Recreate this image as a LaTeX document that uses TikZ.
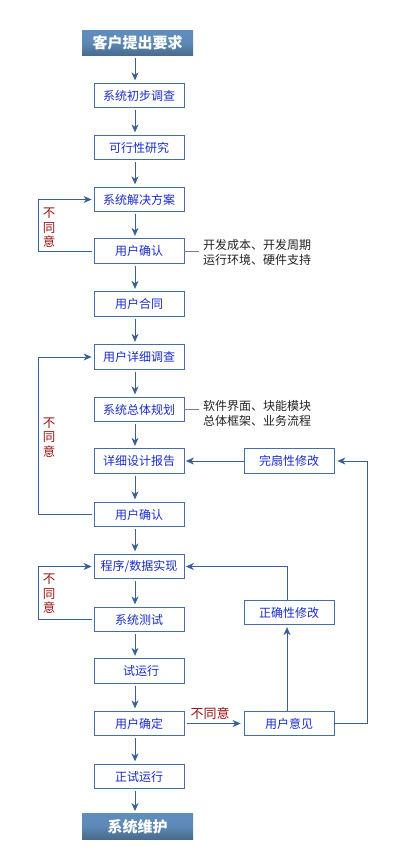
\documentclass[tikz,border=0pt]{standalone}
\usepackage{fontspec}
\setmainfont{Noto Sans CJK SC}
\usetikzlibrary{arrows.meta,calc}
\definecolor{boxc}{RGB}{70,110,165}
\definecolor{arrc}{RGB}{58,95,150}
\definecolor{txtc}{RGB}{25,45,200}
\definecolor{redc}{RGB}{150,20,20}
\definecolor{notec}{RGB}{35,35,35}
\definecolor{topc}{RGB}{96,142,188}
\definecolor{botc}{RGB}{72,106,140}
\begin{document}
\begin{tikzpicture}[x=1pt,y=-1pt,
  stepbox/.style={draw=boxc,line width=0.8pt,fill=white,minimum width=90pt,minimum height=24.5pt,inner sep=0pt,text=txtc,font=\fontsize{12}{12}\selectfont},
  endbox/.style={draw=none,minimum width=111pt,minimum height=25.5pt,inner sep=0pt,text=white,font=\fontsize{15}{15}\selectfont\bfseries,
    top color=topc,bottom color=botc,middle color=topc!85!botc},
  flow/.style={draw=arrc,line width=0.8pt,-{Stealth[length=8pt,width=7pt,inset=2.5pt]}},
  plain/.style={draw=arrc,line width=0.8pt},
  notetext/.style={text=notec,align=left,anchor=west,inner sep=0pt,font=\fontsize{12}{15}\selectfont},
  nolabel/.style={text=redc,align=center,inner sep=0pt,font=\fontsize{12.5}{14.5}\selectfont}]
\useasboundingbox (0,0) rectangle (400,860);
\fill[white] (0,0) rectangle (400,860);
\coordinate (col) at (135,0);
\coordinate (rcol) at (287,0);
\coordinate (lx) at (38,0);
\coordinate (rx) at (367,0);

\node[endbox] (t) at (137.5,43) {客户提出要求};
\node[stepbox] (b1) at (139,95.5) {系统初步调查};
\node[stepbox] (b2) at (139,147.5) {可行性研究};
\node[stepbox] (b3) at (139,199.5) {系统解决方案};
\node[stepbox] (b4) at (139,251) {用户确认};
\node[stepbox] (b5) at (139,304) {用户合同};
\node[stepbox] (b6) at (139,357) {用户详细调查};
\node[stepbox] (b7) at (139,409.5) {系统总体规划};
\node[stepbox] (b8) at (139,461) {详细设计报告};
\node[stepbox] (b9) at (139,514.5) {用户确认};
\node[stepbox] (b10) at (139,566.5) {程序/数据实现};
\node[stepbox] (b11) at (139,619.5) {系统测试};
\node[stepbox] (b12) at (139,671) {\hspace{4pt}试运行};
\node[stepbox] (b13) at (139,723.5) {用户确定};
\node[stepbox] (b14) at (139,776.5) {正试运行};
\node[endbox] (e) at (137.5,826.5) {系统维护};

\node[stepbox] (r1) at (289,461) {完扇性修改};
\node[stepbox] (r2) at (289,612.5) {正确性修改};
\node[stepbox] (r3) at (289,723.5) {用户意见};

% main column arrows
\foreach \a/\b in {t/b1,b1/b2,b2/b3,b3/b4,b4/b5,b5/b6,b6/b7,b7/b8,b8/b9,b9/b10,b10/b11,b11/b12,b12/b13,b13/b14,b14/e}{
  \draw[flow,shorten <=2pt,shorten >=2.5pt] (\a.south -| col) -- (\b.north -| col);
}

% left loops
\draw[flow,shorten <=2pt,shorten >=2pt] (b4.west) -- (b4.west -| lx) |- (b3.west);
\draw[flow,shorten <=2pt,shorten >=2pt] (b9.west) -- (b9.west -| lx) |- (b6.west);
\draw[flow,shorten <=2pt,shorten >=2pt] (b11.west) -- (b11.west -| lx) |- (b10.west);
\node[nolabel] (n1) at (49,228) {不\\同\\意};
\node[nolabel] (n2) at (49,437.5) {不\\同\\意};
\node[nolabel] (n3) at (49,594) {不\\同\\意};

% side notes
\coordinate (s1) at (199,251);
\draw[gray,line width=0.7pt] (b4.east) -- (s1);
\node[notetext] (m1) at (203,252.5) {开发成本、开发周期\\运行环境、硬件支持};
\coordinate (s2) at (199,409.5);
\draw[gray,line width=0.7pt] (b7.east) -- (s2);
\node[notetext] (m2) at (203,413.5) {软件界面、块能模块\\总体框架、业务流程};

% right side
\draw[flow,shorten >=1.5pt] (r1.west) -- (b8.east);
\draw[flow,shorten >=3pt] (r3.east) -- (r3.east -| rx) |- (r1.east);
\draw[flow,shorten >=1.5pt] (r2.north -| rcol) |- (b10.east);
\draw[flow,shorten >=2pt] (r3.north -| rcol) -- (r2.south -| rcol);
\draw[flow,shorten <=3pt,shorten >=3pt] (b13.east) -- (r3.west);
\node[nolabel,font=\fontsize{13}{13}\selectfont] (n4) at (210,714) {不同意};
\end{tikzpicture}
\end{document}
